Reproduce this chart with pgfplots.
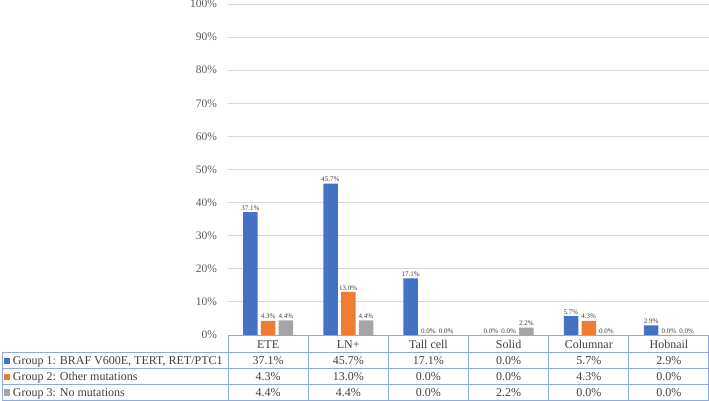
\documentclass[border=0pt]{standalone}
\usepackage{fontspec}
\setmainfont{Liberation Serif}
\usepackage{pgfplots}
\pgfplotsset{compat=1.18}
\usepackage{pgfplotstable}

\definecolor{gA}{HTML}{4472C4}
\definecolor{gB}{HTML}{ED7D31}
\definecolor{gC}{HTML}{A5A5A5}
\definecolor{tbl}{HTML}{8EA9DB}
\definecolor{txt}{HTML}{404040}
\definecolor{ticktxt}{HTML}{595959}
\definecolor{grd}{HTML}{D9D9D9}

% x = category index, g1/g2/g3 = percent of each group
\pgfplotstableread{
x g1 g2 g3
0 37.1 4.3 4.4
1 45.7 13.0 4.4
2 17.1 0.0 0.0
3 0.0 0.0 2.2
4 5.7 4.3 0.0
5 2.9 0.0 0.0
}\data

\newcommand{\pct}{\pgfmathprintnumber[fixed,fixed zerofill,precision=1]{\pgfplotspointmeta}\%}

\pgfplotsset{
  base/.style={scale only axis, width=481pt, height=331pt,
    xmin=-0.5, xmax=5.5, ymin=0, ymax=100, clip=false,
    /pgf/number format/assume math mode=true},
  row/.style={draw=none, mark=none, point meta=explicit, nodes near coords=\pct,
    every node near coord/.style={anchor=base, yshift=#1, font=\fontsize{12}{14}\selectfont, text=txt, inner sep=0pt}},
}

\begin{document}
\begin{tikzpicture}
  \begin{axis}
    [ base
    , ybar=3.25pt
    , bar width=14.5pt
    , xtick={0,...,5}
    , xticklabels={ETE, LN+, Tall cell, Solid, Columnar, Hobnail}
    , xticklabel style={anchor=base, yshift=-13.3pt, inner sep=0pt, font=\fontsize{12}{14}\selectfont, text=txt}
    , ytick={0,10,...,100}
    , yticklabels={0\%,10\%,20\%,30\%,40\%,50\%,60\%,70\%,80\%,90\%,100\%}
    , yticklabel style={font=\fontsize{11.5}{13}\selectfont, text=ticktxt, xshift=-7.5pt}
    , major tick length=0pt
    , axis line style={draw=none}
    , ymajorgrids=true
    , grid style={grd, line width=0.8pt}
    , nodes near coords=\pct
    , every node near coord/.append style={font=\fontsize{7}{8}\selectfont, text=txt, inner sep=1.5pt}
    ]
    \addplot[fill=gA, draw=none] table[x=x, y=g1] {\data};
    \addplot[fill=gB, draw=none] table[x=x, y=g2] {\data};
    \addplot[fill=gC, draw=none] table[x=x, y=g3] {\data};
  \end{axis}
  % data table values
  \begin{axis}[base, hide axis]
    \addplot[row=-30pt]   table[x=x, y expr=0, meta=g1] {\data};
    \addplot[row=-45.8pt] table[x=x, y expr=0, meta=g2] {\data};
    \addplot[row=-61.5pt] table[x=x, y expr=0, meta=g3] {\data};
  \end{axis}
  % table grid
  \begin{scope}[tbl, line width=0.8pt]
    \draw (0,0) -- (480.6pt,0);
    \foreach \i in {0,...,5} \draw (\i*80.17pt,0) -- (\i*80.17pt,-65pt);
    \draw (480.6pt,0) -- (480.6pt,-65pt);
    \draw (-226pt,-17.7pt) rectangle (480.6pt,-65pt);
    \draw (-226pt,-33.7pt) -- (480.6pt,-33.7pt);
    \draw (-226pt,-49.3pt) -- (480.6pt,-49.3pt);
  \end{scope}
  % legend keys
  \fill[gA] (-224pt,-29.3pt) rectangle ++(6.5pt,6.5pt);
  \fill[gB] (-224pt,-45.1pt) rectangle ++(6.5pt,6.5pt);
  \fill[gC] (-224pt,-60.8pt) rectangle ++(6.5pt,6.5pt);
  \begin{scope}[every node/.style={anchor=base west, inner sep=0pt, font=\fontsize{12}{14}\selectfont, text=txt}]
    \node at (-215.3pt,-30pt)   {Group 1: BRAF V600E, TERT, RET/PTC1};
    \node at (-215.3pt,-45.8pt) {Group 2: Other mutations};
    \node at (-215.3pt,-61.5pt) {Group 3: No mutations};
  \end{scope}
  \pgfresetboundingbox
  \path (-228pt,-66pt) rectangle (481pt,335pt);
\end{tikzpicture}
\end{document}
